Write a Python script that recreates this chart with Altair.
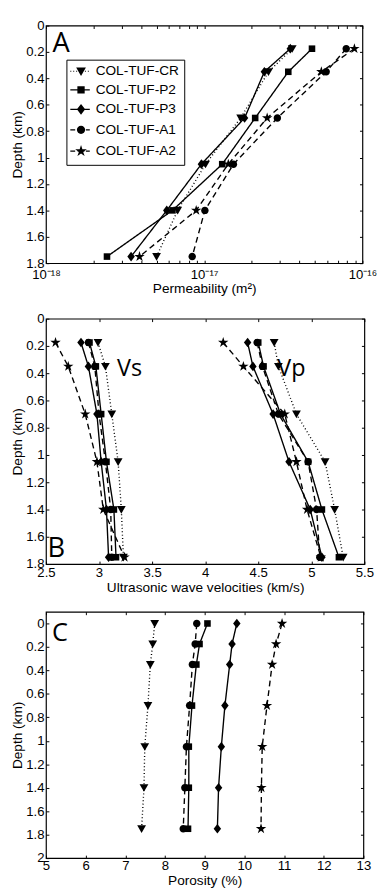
import altair as alt
import pandas as pd

# ---------------- data ----------------
SERIES = ["COL-TUF-CR", "COL-TUF-P2", "COL-TUF-P3", "COL-TUF-A1", "COL-TUF-A2"]
DEPTH = [0.175, 0.35, 0.7, 1.05, 1.4, 1.75]
DEPTH_C = [0.0, 0.175, 0.35, 0.7, 1.05, 1.4, 1.75]

PERM_CR = [3.6e-17, 2.55e-17, 1.7e-17, 1.02e-17, 6.8e-18, 5.0e-18]
PERM_P2 = [4.8e-17, 3.4e-17, 2.1e-17, 1.3e-17, 6.3e-18, 2.43e-18]
PERM_P3 = [3.5e-17, 2.4e-17, 1.8e-17, 9.6e-18, 5.8e-18, 3.45e-18]
PERM_A1 = [7.9e-17, 5.9e-17, 2.9e-17, 1.53e-17, 1.01e-17, 8.4e-18]
PERM_A2 = [8.9e-17, 5.5e-17, 2.5e-17, 1.42e-17, 8.9e-18, 3.9e-18]

VS_CR = [2.99, 3.06, 3.12, 3.18, 3.21, 3.23]
VS_P2 = [2.91, 2.97, 3.02, 3.07, 3.14, 3.16]
VS_P3 = [2.83, 2.90, 2.98, 3.02, 3.07, 3.09]
VS_A1 = [2.90, 2.96, 3.00, 3.06, 3.11, 3.12]
VS_A2 = [2.59, 2.71, 2.87, 2.98, 3.04, 3.24]

VP_CR = [4.65, 4.69, 4.86, 5.13, 5.22, 5.30]
VP_P2 = [4.50, 4.55, 4.71, 4.97, 5.10, 5.26]
VP_P3 = [4.40, 4.45, 4.64, 4.79, 4.99, 5.10]
VP_A1 = [4.49, 4.54, 4.69, 4.97, 5.05, 5.08]
VP_A2 = [4.17, 4.36, 4.75, 4.86, 4.96, 5.09]

POR_CR = [7.74, 7.69, 7.63, 7.57, 7.49, 7.47, 7.41]
POR_P2 = [9.07, 8.87, 8.79, 8.68, 8.60, 8.60, 8.58]
POR_P3 = [9.81, 9.69, 9.63, 9.51, 9.42, 9.35, 9.32]
POR_A1 = [8.80, 8.76, 8.69, 8.62, 8.54, 8.50, 8.46]
POR_A2 = [10.95, 10.80, 10.70, 10.57, 10.45, 10.43, 10.42]

DEPTH_TICKS = [0, 0.2, 0.4, 0.6, 0.8, 1.0, 1.2, 1.4, 1.6, 1.8]
DEPTH_TICKS_C = [0, 0.2, 0.4, 0.6, 0.8, 1.0, 1.2, 1.4, 1.6, 1.8, 2.0]
PERM_TICKS = [m * 10.0 ** e for e in (-18, -17) for m in range(1, 10)] + [1e-16]
VEL_TICKS = [2.5, 3.0, 3.5, 4.0, 4.5, 5.0, 5.5]
POR_TICKS = [5, 6, 7, 8, 9, 10, 11, 12, 13]

# annotations (text, x in data units, depth)
ANNOT_A = [("A", 1.1e-18, 0.2)]
ANNOT_B = [("B", 2.515, 1.75), ("Vs", 3.17, 0.42), ("Vp", 4.68, 0.42)]
ANNOT_C = [("C", 5.15, 0.15)]

PERM = dict(zip(SERIES, [PERM_CR, PERM_P2, PERM_P3, PERM_A1, PERM_A2]))
VS = dict(zip(SERIES, [VS_CR, VS_P2, VS_P3, VS_A1, VS_A2]))
VP = dict(zip(SERIES, [VP_CR, VP_P2, VP_P3, VP_A1, VP_A2]))
POR = dict(zip(SERIES, [POR_CR, POR_P2, POR_P3, POR_A1, POR_A2]))

dfA = pd.DataFrame([{"series": s, "depth": d, "val": v}
                    for s in SERIES for d, v in zip(DEPTH, PERM[s])])
rowsB = []
for s in SERIES:
    for d, v in zip(DEPTH, VS[s]):
        rowsB.append({"series": s, "wave": "Vs", "depth": d, "val": v})
    for d, v in zip(DEPTH, VP[s]):
        rowsB.append({"series": s, "wave": "Vp", "depth": d, "val": v})
dfB = pd.DataFrame(rowsB)
dfC = pd.DataFrame([{"series": s, "depth": d, "val": v}
                    for s in SERIES for d, v in zip(DEPTH_C, POR[s])])

# ---------------- styles ----------------
FONT = "Liberation Sans"
TRI = "M-1,-0.8L1,-0.8L0,0.95Z"
SQ = "M-0.75,-0.75H0.75V0.75H-0.75Z"
DIA = "M0,-1.1L0.85,0L0,1.1L-0.85,0Z"
CIR = "M0.85,0A0.85,0.85,0,1,1,-0.85,0A0.85,0.85,0,1,1,0.85,0Z"
STAR = ("M0,-1.25L0.279,-0.384L1.189,-0.386L0.452,0.147L0.735,1.011L0,0.475"
        "L-0.735,1.011L-0.452,0.147L-1.189,-0.386L-0.279,-0.384Z")
MARKERS = [TRI, SQ, DIA, CIR, STAR]


# legend line segments drawn as thin closed rectangles so they show with fill alone
def bar(x0, x1, hw=0.13):
    return f"M{x0},{-hw}L{x1},{-hw}L{x1},{hw}L{x0},{hw}Z"


def seg_path(kind):
    if kind == "solid":
        return bar(-2.2, 1.8)
    if kind == "dashed":
        return bar(-2.2, -1.2) + bar(-0.7, 0.7) + bar(1.0, 1.8)
    parts, x = [], -2.2
    while x < 1.8:
        parts.append(bar(round(x, 2), round(x + 0.2, 2), 0.1))
        x += 0.6
    return "".join(parts)


LEGEND_PATHS = [seg_path("dotted") + TRI, seg_path("solid") + SQ, seg_path("solid") + DIA,
                seg_path("dashed") + CIR, seg_path("dashed") + STAR]
DASHES = [[1, 2.5], [1, 0], [1, 0], [6, 4], [6, 4]]

dash_enc = alt.StrokeDash("series:N", scale=alt.Scale(domain=SERIES, range=DASHES), legend=None)
shape_enc = alt.Shape("series:N", scale=alt.Scale(domain=SERIES, range=MARKERS), legend=None)


def axis_main(orient, values, title, label_expr=None, fmt=None, label_pad=2, title_pad=2):
    kw = dict(orient=orient, values=values, title=title, tickSize=3, offset=-3, domain=False,
              grid=False, labelPadding=label_pad, titlePadding=title_pad, labelFlush=False,
              labelOverlap=False)
    if label_expr is not None:
        kw["labelExpr"] = label_expr
    if fmt is not None:
        kw["format"] = fmt
    return alt.Axis(**kw)


def axis_ticks(orient, values):
    return alt.Axis(orient=orient, values=values, title=None, labels=False, tickSize=3,
                    offset=-3, domain=False, grid=False)


def panel(df, xscale, yscale, xvals, yvals, xtitle, ann, xlabel_expr=None, xfmt=None,
          xlabel_pad=2, xtitle_pad=2, detail="series:N", w=325, h=244, ann_styles=None,
          extra=None):
    base = alt.Chart(df)
    lines = base.mark_line(color="black", strokeWidth=1.4).encode(
        x=alt.X("val:Q", scale=xscale,
                axis=axis_main("bottom", xvals, xtitle, xlabel_expr, xfmt, xlabel_pad, xtitle_pad)),
        y=alt.Y("depth:Q", scale=yscale,
                axis=axis_main("left", yvals, "Depth (km)", fmt=".1~f", label_pad=2, title_pad=1)),
        detail=detail,
        strokeDash=dash_enc,
        order=alt.Order("depth:Q"),
    )
    pts = base.mark_point(filled=True, color="black", size=81, opacity=1).encode(
        x=alt.X("val:Q", scale=xscale, axis=axis_ticks("top", xvals)),
        y=alt.Y("depth:Q", scale=yscale, axis=axis_ticks("right", yvals)),
        shape=shape_enc,
    )
    layers = [lines, pts]
    for (t, ax, ay), (fs, fnt) in zip(ann, ann_styles):
        tdf = pd.DataFrame({"t": [t], "ax": [ax], "ay": [ay]})
        layers.append(alt.Chart(tdf).mark_text(font=fnt, fontSize=fs, align="left",
                                               baseline="alphabetic", color="black").encode(
            x=alt.X("ax:Q", scale=xscale, axis=None),
            y=alt.Y("ay:Q", scale=yscale, axis=None), text="t:N"))
    if extra is not None:
        layers.append(extra)
    ch = alt.layer(*layers).resolve_axis(x="independent", y="independent")
    if extra is not None:
        ch = ch.resolve_scale(shape="independent")
    return ch.properties(width=w, height=h)


legendA = alt.Chart(dfA).transform_filter("false").mark_point(
    filled=True, color="black", size=100, opacity=1
).encode(
    shape=alt.Shape("series:N", scale=alt.Scale(domain=SERIES, range=LEGEND_PATHS),
                    legend=alt.Legend(title=None, orient="none", legendX=21, legendY=35,
                                      strokeColor="black", fillColor="white", padding=5,
                                      labelFont=FONT, labelFontSize=14, labelColor="black",
                                      symbolSize=100, rowPadding=4, labelOffset=8,
                                      symbolOffset=3, symbolFillColor="black",
                                      symbolOpacity=1, cornerRadius=0))
)

perm_expr = ("datum.value < 1.5e-18 ? '10\u207b\u00b9\u2078' : "
             "(abs(datum.value - 1e-17) < 1e-19 ? '10\u207b\u00b9\u2077' : "
             "(datum.value > 9.5e-17 ? '10\u207b\u00b9\u2076' : ''))")

chartA = panel(dfA, alt.Scale(type="log", domain=[1e-18, 1e-16], nice=False),
               alt.Scale(domain=[0, 1.8], reverse=True, nice=False, zero=False),
               PERM_TICKS, DEPTH_TICKS, "Permeability (m\u00b2)", ANNOT_A,
               xlabel_expr=perm_expr, xlabel_pad=5, xtitle_pad=1, w=325, h=244,
               ann_styles=[(28, "Open Sans")], extra=legendA)

chartB = panel(dfB, alt.Scale(domain=[2.5, 5.5], nice=False, zero=False),
               alt.Scale(domain=[0, 1.8], reverse=True, nice=False, zero=False),
               VEL_TICKS, DEPTH_TICKS, "Ultrasonic wave velocities (km/s)", ANNOT_B,
               xfmt=".1~f", xlabel_pad=2, xtitle_pad=2, detail=["series:N", "wave:N"],
               w=327, h=252,
               ann_styles=[(28, "Open Sans"), (24, "Open Sans"), (24, "Open Sans")])

chartC = panel(dfC, alt.Scale(domain=[5, 13], nice=False, zero=False),
               alt.Scale(domain=[-0.1, 2], reverse=True, nice=False, zero=False),
               POR_TICKS, DEPTH_TICKS_C, "Porosity (%)", ANNOT_C,
               xfmt="d", xlabel_pad=1, xtitle_pad=2, w=326, h=253,
               ann_styles=[(26, "Open Sans")])

chart = alt.vconcat(chartA, chartB, chartC, spacing=14).properties(
    padding={"left": 2, "top": -2, "right": 0, "bottom": 0}
).configure_view(stroke="black", strokeWidth=1.2).configure_axis(
    labelFont=FONT, labelFontSize=13.5, labelColor="black", titleFont=FONT, titleFontSize=14,
    titleFontWeight="normal", titleColor="black", tickColor="black", tickWidth=1
)

chart.save("out.html", embed_options={"renderer": "svg", "actions": False})
